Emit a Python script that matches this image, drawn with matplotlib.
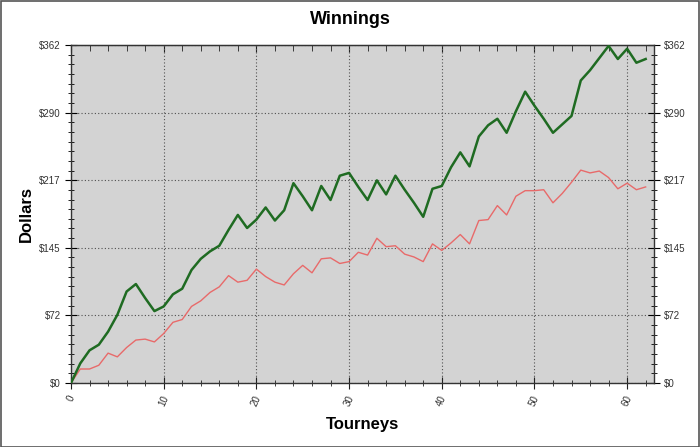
import matplotlib
matplotlib.use("Agg")
import matplotlib.pyplot as plt
from matplotlib.ticker import FixedLocator, MultipleLocator, AutoMinorLocator
from matplotlib.patches import Rectangle

plt.rcParams['font.family'] = ['Liberation Sans', 'DejaVu Sans']

# data
tourneys = list(range(63))
winnings = [0, 21, 35, 41, 55, 73, 98, 106, 91, 77, 82, 95, 101, 121, 133, 141,
            147, 164, 180, 166, 175, 188, 174, 185, 214, 200, 185, 211, 196, 222,
            225, 210, 196, 217, 202, 222, 207, 193, 178, 208, 211, 231, 247, 232,
            264, 276, 283, 268, 291, 312, 297, 283, 268, 277, 286, 324, 335, 348,
            361, 347, 358, 343, 347]
expected = [0, 15, 15, 19, 32, 28, 38, 46, 47, 44, 53, 65, 68, 82, 88, 97,
            103, 115, 108, 110, 122, 114, 108, 105, 117, 126, 118, 133, 134, 128,
            130, 140, 137, 155, 146, 147, 138, 135, 130, 149, 142, 150, 159, 149,
            174, 175, 190, 180, 200, 206, 206, 207, 193, 203, 215, 228, 225, 227,
            220, 208, 214, 207, 210]

ymax = 362
yticks = [0, 72.4, 144.8, 217.2, 289.6, 362]
ylabels = ['$0', '$72', '$145', '$217', '$290', '$362']

fig = plt.figure(figsize=(7, 4.47), dpi=100)
ax = fig.add_axes([71 / 700, 1 - 383 / 447, 583 / 700, 338 / 447])
ax.set_facecolor('#d3d3d3')

ax.plot(tourneys, expected, color='#e86a6a', lw=1.0, zorder=3)
ax.plot(tourneys, winnings, color='#1f6b22', lw=1.8, zorder=4)

ax.set_xlim(0, 62.9)
ax.set_ylim(0, ymax)

ax.xaxis.set_major_locator(MultipleLocator(10))
ax.xaxis.set_minor_locator(MultipleLocator(2))
ax.yaxis.set_major_locator(FixedLocator(yticks))
ax.set_yticklabels(ylabels)
ax.yaxis.set_minor_locator(AutoMinorLocator(7))

ax.grid(True, which='major', color='#505050', linestyle=(0, (1, 2)), lw=0.8)

ax.tick_params(axis='x', which='both', direction='inout', labelsize=7,
               colors='#222222', labelcolor='#333333', pad=4)
ax.tick_params(axis='x', which='major', length=8)
ax.tick_params(axis='x', which='minor', length=5)
ax.tick_params(axis='y', which='both', direction='inout', right=True,
               labelright=True, labelsize=7, labelcolor='#333333')
ax.tick_params(axis='y', which='major', length=8)
ax.tick_params(axis='y', which='minor', length=5)
for lbl in ax.get_xticklabels():
    lbl.set_rotation(65)

# top axis has short inward ticks, no labels
top = ax.secondary_xaxis('top')
top.xaxis.set_major_locator(MultipleLocator(10))
top.xaxis.set_minor_locator(MultipleLocator(2))
top.tick_params(axis='x', which='both', direction='in', labeltop=False,
                colors='#222222')
top.tick_params(axis='x', which='major', length=5)
top.tick_params(axis='x', which='minor', length=4)
top.spines['top'].set_color('#333333')

for s in ax.spines.values():
    s.set_color('#333333')
    s.set_linewidth(1.0)

fig.text(350 / 700, 1 - 20 / 447, 'Winnings', ha='center', va='center',
         fontsize=13, fontweight='bold')
fig.text(26 / 700, 1 - 214 / 447, 'Dollars', ha='center', va='center',
         rotation=90, fontsize=12, fontweight='bold')
fig.text(362 / 700, 1 - 424 / 447, 'Tourneys', ha='center', va='center',
         fontsize=12, fontweight='bold')

fig.patches.append(Rectangle((0.001, 0.001), 0.997, 0.997, transform=fig.transFigure,
                             fill=False, edgecolor='#555555', lw=1.2))

fig.savefig('out.png', dpi=100)
